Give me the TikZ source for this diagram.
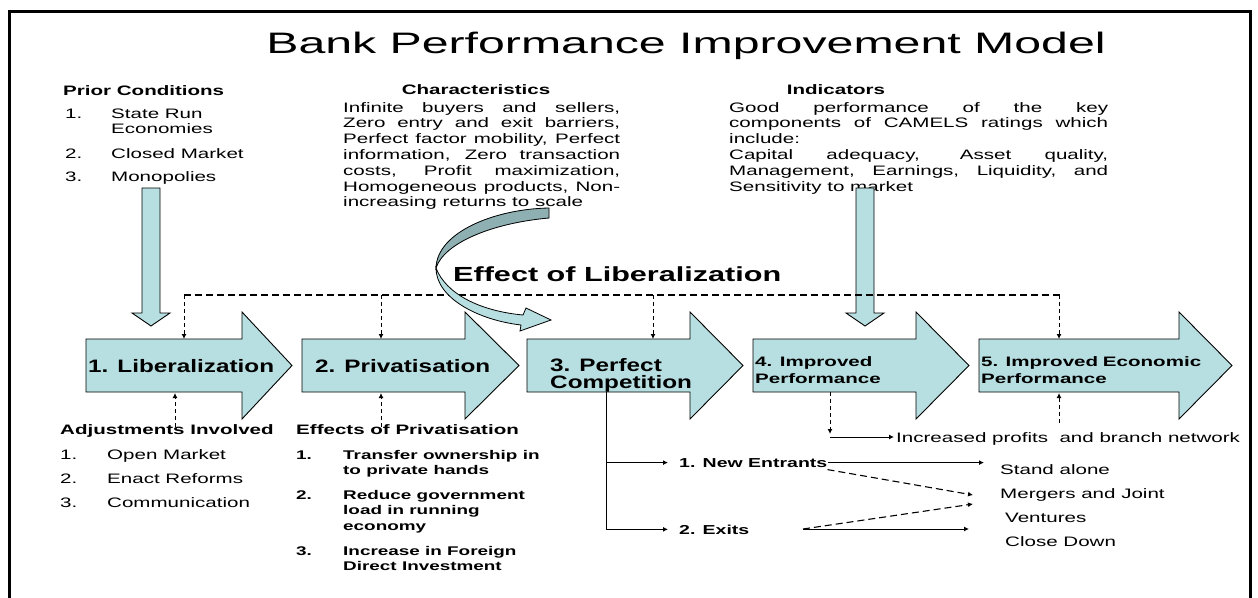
\documentclass[tikz,border=0pt]{standalone}
\usepackage{fontspec}
\setmainfont[FakeStretch=1.5]{Liberation Sans}
\newfontfamily\titlefont[FakeStretch=1.63]{Liberation Sans}
\newfontfamily\labelfont[FakeStretch=1.35]{Liberation Sans}
\usetikzlibrary{arrows.meta}
\setlength{\parindent}{0pt}

\definecolor{arrowblue}{RGB}{183,222,224}
\definecolor{ribbongray}{RGB}{143,176,178}

\tikzset{
	txt/.style={inner sep=0pt, anchor=base west, font=\fontsize{13.7}{15.8}\selectfont},
	txtb/.style={txt, font=\fontsize{13.7}{15.8}\selectfont\bfseries},
	listb/.style={txt, font=\fontsize{12.6}{15.8}\selectfont\bfseries},
	lbl/.style={txt, font=\labelfont\fontsize{18}{17}\selectfont\bfseries},
	lblsmall/.style={txt, font=\fontsize{13.7}{17}\selectfont\bfseries},
	blockarrow/.style={draw, line width=0.9pt, fill=arrowblue, line join=miter},
	tip/.style={-{Latex[length=5pt, width=5pt]}},
	dashlink/.style={tip, line width=1pt, dash pattern=on 4pt off 3pt},
	longdash/.style={line width=1.1pt, dash pattern=on 7pt off 4pt},
	solidlink/.style={tip, line width=1pt},
}

\begin{document}
\begin{tikzpicture}[x=1pt, y=-1pt]
	\useasboundingbox (0,0) rectangle (1258,597);
	\draw[line width=3pt] (9,600) -- (9,11.5) -- (1250,11.5) -- (1250,600);

	\node[anchor=base, inner sep=0pt, font=\titlefont\fontsize{29.6}{36}\selectfont] (title) at (686,53) {Bank Performance Improvement Model};

	\node[txtb] (prior) at (63,95) {Prior Conditions};
	\foreach \i/\y in {1/118, 2/158, 3/181}
		\node[txt] (prior num\i) at (65,\y) {\i.};
	\node[txt] (prior1) at (111,118) {\parbox[t]{150pt}{State Run\\Economies}};
	\node[txt] (prior2) at (111,158) {Closed Market};
	\node[txt] (prior3) at (111,181) {Monopolies};

	\node[txtb, anchor=base] (char head) at (476,94) {Characteristics};
	\node[txt] (char) at (343,112) {\parbox[t]{277pt}{%
		\makebox[\linewidth][s]{Infinite buyers and sellers,}\\
		\makebox[\linewidth][s]{Zero entry and exit barriers,}\\
		\makebox[\linewidth][s]{Perfect factor mobility, Perfect}\\
		\makebox[\linewidth][s]{information, Zero transaction}\\
		\makebox[\linewidth][s]{costs, Profit maximization,}\\
		\makebox[\linewidth][s]{Homogeneous products, Non-}\\
		increasing returns to scale}};

	\node[txtb, anchor=base] (ind head) at (836,94) {Indicators};
	\node[txt] (ind) at (729,112) {\parbox[t]{379pt}{%
		\makebox[\linewidth][s]{Good performance of the key}\\
		\makebox[\linewidth][s]{components of CAMELS ratings which}\\
		include:\\
		\makebox[\linewidth][s]{Capital adequacy, Asset quality,}\\
		\makebox[\linewidth][s]{Management, Earnings, Liquidity, and}\\
		Sensitivity to market}};

	\foreach \c in {151, 865}
		\draw[blockarrow] (\c-9,188) -- (\c+9,188) -- (\c+9,313) -- (\c+19,313) -- (\c,326) -- (\c-19,313) -- (\c-9,313) -- cycle;

	\foreach \l/\b/\t in {86/242/292, 302/465/519, 527/690/743, 753/916/969, 979/1179/1232}
		\draw[blockarrow] (\l,339) -- (\b,339) -- (\b,312) -- (\t,365.5) -- (\b,419) -- (\b,392) -- (\l,392) -- cycle;

	\node[lbl] (lib) at (88,372) {1. Liberalization};
	\node[lbl] (priv) at (315,372) {2. Privatisation};
	\node[lbl] (comp) at (550,371) {\parbox[t]{160pt}{3. Perfect\\Competition}};
	\node[lblsmall] (perf) at (755,366) {\parbox[t]{160pt}{4. Improved\\Performance}};
	\node[lblsmall] (econ) at (981,366) {\parbox[t]{220pt}{5. Improved Economic\\Performance}};

	\node[txt, font=\fontsize{20.4}{24}\selectfont\bfseries] (effect) at (453,281) {Effect of Liberalization};

	\coordinate (lib top) at (184,295);
	\coordinate (econ top) at (1060,295);
	\draw[longdash] (lib top) -- (econ top);
	\foreach \x in {184, 381, 653, 1059}
		\draw[dashlink] (\x,295) -- (\x,339);

	\draw[ribbongray, fill=ribbongray] (549,208) .. controls (495,209) and (437,232) .. (436,268) .. controls (444,243) and (492,223) .. (549,218) -- cycle;
	\draw[line width=0.8pt] (549,208) .. controls (495,209) and (437,232) .. (436,268) .. controls (444,243) and (492,223) .. (549,218) -- cycle;
	\draw[blockarrow, line width=0.8pt] (436,268) .. controls (436,298) and (478,320) .. (521,325) -- (520,331) -- (551,320) -- (526,308) -- (523,315) .. controls (480,311) and (446,294) .. (436,268) -- cycle;

	\node[txtb] (adj) at (60,434) {Adjustments Involved};
	\foreach \i/\y/\t in {1/459/Open Market, 2/483/Enact Reforms, 3/507/Communication} {
		\node[txt] (adj num\i) at (60,\y) {\i.};
		\node[txt] (adj\i) at (107,\y) {\t};
	}

	\node[txtb] (eff) at (296,434) {Effects of Privatisation};
	\foreach \i/\y in {1/459, 2/499, 3/555}
		\node[listb] (eff num\i) at (296,\y) {\i.};
	\node[listb] (eff1) at (343,459) {\parbox[t]{240pt}{Transfer ownership in\\to private hands}};
	\node[listb] (eff2) at (343,499) {\parbox[t]{240pt}{Reduce government\\load in running\\economy}};
	\node[listb] (eff3) at (343,555) {\parbox[t]{240pt}{Increase in Foreign\\Direct Investment}};

	\draw[dashlink] (175,427) -- (175,393);
	\draw[dashlink] (381,427) -- (381,393);
	\draw[dashlink] (1059,423) -- (1059,393);

	\node[txt] (profit) at (896,442) {Increased profits\ \ and branch network};
	\coordinate (perf down) at (830,392);
	\draw[dashlink] (perf down) -- (830,434);
	\draw[solidlink] (830,437) -- ([xshift=-2pt]profit.west |- 0,437);

	\node[txtb, font=\fontsize{13}{15}\selectfont\bfseries] (entrants) at (679,467) {1. New Entrants};
	\node[txtb, font=\fontsize{13}{15}\selectfont\bfseries] (exits) at (679,534) {2. Exits};
	\coordinate (trunk) at (606,392);
	\draw[solidlink] (trunk) |- ([xshift=-11pt]exits.west);
	\draw[solidlink] (trunk |- entrants.west) -- ([xshift=-11pt]entrants.west);

	\node[txt] (stand) at (1000,474) {Stand alone};
	\node[txt] (merge) at (1000,498) {Mergers and Joint};
	\node[txt] (vent) at (1005,522) {Ventures};
	\node[txt] (close) at (1005,546) {Close Down};

	\coordinate (to stand) at (984,463);
	\coordinate (to merge a) at (973,495);
	\coordinate (to merge b) at (973,504);
	\coordinate (exit start) at (803,529);
	\draw[solidlink] (entrants.east) -- (entrants.east -| to stand);
	\draw[longdash, tip] ([yshift=-7pt]entrants.east) -- (to merge a);
	\draw[longdash, tip] (exit start) -- (to merge b);
	\draw[solidlink] (exit start) -- (969,529);
\end{tikzpicture}
\end{document}
